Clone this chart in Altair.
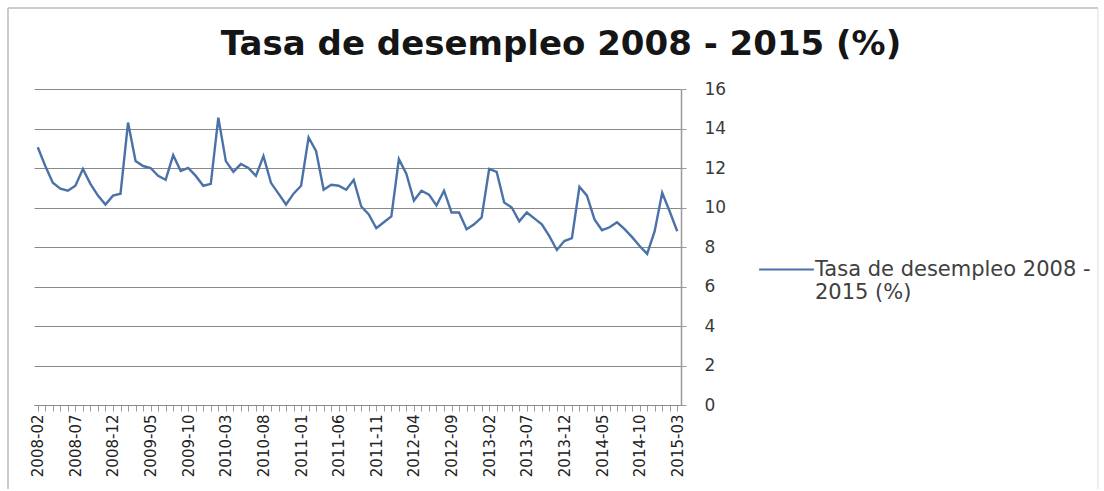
import altair as alt
import pandas as pd

# Categories: monthly, 2008-02 .. 2015-03
meses = []
_y, _m = 2008, 2
for _ in range(86):
    meses.append(f"{_y}-{_m:02d}")
    _m += 1
    if _m > 12:
        _m = 1
        _y += 1

# Values (%)
tasa = [
    13.05, 12.1, 11.25, 10.95, 10.85, 11.1, 11.95, 11.2, 10.6, 10.15, 10.6, 10.7,
    14.3, 12.35, 12.1, 12.0, 11.6, 11.4, 12.65, 11.85, 12.0, 11.6, 11.1, 11.2,
    14.55, 12.35, 11.8, 12.2, 12.0, 11.6, 12.6, 11.25, 10.7, 10.15, 10.7, 11.1,
    13.55, 12.85, 10.9, 11.15, 11.1, 10.9, 11.4, 10.05, 9.65, 8.95, 9.25, 9.55,
    12.45, 11.7, 10.35, 10.85, 10.65, 10.1, 10.85, 9.75, 9.75, 8.9, 9.15, 9.5,
    11.95, 11.8, 10.25, 10.0, 9.3, 9.75, 9.45, 9.15, 8.55, 7.85, 8.3, 8.45,
    11.05, 10.6, 9.4, 8.85, 9.0, 9.25, 8.9, 8.5, 8.05, 7.65, 8.8, 10.75,
    9.8, 8.8,
]

serie = "Tasa de desempleo 2008 - 2015 (%)"
titulo = "Tasa de desempleo 2008 - 2015 (%)"
y_ticks = [0, 2, 4, 6, 8, 10, 12, 14, 16]

df = pd.DataFrame({"mes": meses, "tasa": tasa, "serie": [serie] * len(meses)})

label_expr = (
    "((toNumber(substring(datum.value,0,4))-2008)*12 + "
    "toNumber(substring(datum.value,5,7)) - 2) % 5 == 0 ? datum.value : ''"
)

line = alt.Chart(df).mark_line(strokeWidth=2.4).encode(
    x=alt.X(
        "mes:O",
        sort=None,
        scale=alt.Scale(type="point", padding=0.5),
        axis=alt.Axis(
            title=None,
            labelAngle=270,
            labelExpr=label_expr,
            labelOverlap=False,
            labelBound=False,
            labelFont="DejaVu Sans",
            labelFontSize=15,
            labelColor="#222222",
            labelPadding=3,
            ticks=True,
            tickSize=6,
            tickColor="#9a9a9a",
            domainColor="#8a8a8a",
            grid=False,
        ),
    ),
    y=alt.Y(
        "tasa:Q",
        scale=alt.Scale(domain=[0, 16], nice=False),
        axis=alt.Axis(
            orient="right",
            values=y_ticks,
            title=None,
            grid=True,
            gridColor="#8a8a8a",
            gridWidth=1,
            domainColor="#9a9a9a",
            domainWidth=1.5,
            tickColor="#9a9a9a",
            tickSize=5,
            labelPadding=18,
            labelFont="DejaVu Sans",
            labelFontSize=17,
            labelColor="#3a3a3a",
        ),
    ),
    color=alt.Color(
        "serie:N",
        scale=alt.Scale(range=["#4b72a8"]),
        legend=alt.Legend(
            title=None,
            orient="none",
            legendX=724,
            legendY=152,
            symbolType="stroke",
            symbolSize=3000,
            symbolStrokeWidth=2,
            labelFont="DejaVu Sans",
            labelFontSize=21,
            labelColor="#404040",
            labelLimit=420,
            labelOffset=0,
            padding=0,
            labelExpr="['Tasa de desempleo 2008 -', '2015 (%)']",
        ),
    ),
)

frame_data = alt.Data(values=[{"k": 0}])
title_mark = alt.Chart(frame_data).mark_text(
    text=titulo,
    font="DejaVu Sans",
    fontSize=34,
    fontWeight="bold",
    color="#151515",
    align="center",
    baseline="alphabetic",
).encode(x=alt.value(527), y=alt.value(-34))

left_edge = alt.Chart(frame_data).mark_rule(color="#bdbdbd", strokeWidth=1.5).encode(
    x=alt.value(-26), y=alt.value(-81), y2=alt.value(400)
)
top_edge = alt.Chart(frame_data).mark_rule(color="#bdbdbd", strokeWidth=1.5).encode(
    x=alt.value(-26), x2=alt.value(1064), y=alt.value(-81)
)
right_edge = alt.Chart(frame_data).mark_rule(color="#dddddd", strokeWidth=1).encode(
    x=alt.value(1064), y=alt.value(-81), y2=alt.value(400)
)

chart = alt.layer(line, title_mark, left_edge, top_edge, right_edge).properties(
    width=647,
    height=316,
    padding={"left": 7, "top": 7, "right": 0, "bottom": 0},
    background="white",
).configure_view(strokeWidth=0)

chart.save("out.html", embed_options={"renderer": "svg", "actions": False})
